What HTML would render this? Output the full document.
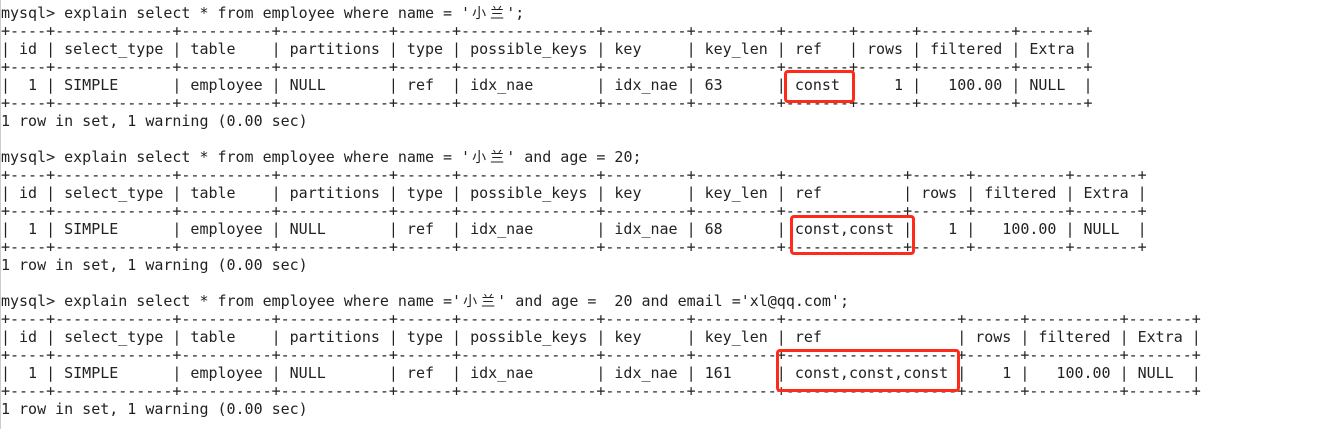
<!DOCTYPE html>
<html><head><meta charset="utf-8"><style>
html,body{margin:0;padding:0;background:#fff;width:1339px;height:429px;overflow:hidden;position:relative}
pre{margin:0;position:absolute;left:1px;top:4px;font-family:"DejaVu Sans Mono","Liberation Mono",monospace;font-size:15px;line-height:18px;color:#222;letter-spacing:-0.01px}
.c{display:inline-block;width:18.05px;text-align:center;font-family:"Noto Sans CJK SC",sans-serif;font-size:14px;line-height:18px;vertical-align:top}
.b{position:absolute;border:3px solid #ff2a1a;border-radius:4px;box-sizing:border-box}
.lb{position:absolute;left:0;top:0;width:1px;height:429px;background:#ccc}
</style></head><body>
<div class="lb"></div>
<pre>mysql&gt; explain select * from employee where name = '<span class="c">小</span><span class="c">兰</span>';
+----+-------------+----------+------------+------+---------------+---------+---------+-------+------+----------+-------+
| id | select_type | table    | partitions | type | possible_keys | key     | key_len | ref   | rows | filtered | Extra |
+----+-------------+----------+------------+------+---------------+---------+---------+-------+------+----------+-------+
|  1 | SIMPLE      | employee | NULL       | ref  | idx_nae       | idx_nae | 63      | const |    1 |   100.00 | NULL  |
+----+-------------+----------+------------+------+---------------+---------+---------+-------+------+----------+-------+
1 row in set, 1 warning (0.00 sec)

mysql&gt; explain select * from employee where name = '<span class="c">小</span><span class="c">兰</span>' and age = 20;
+----+-------------+----------+------------+------+---------------+---------+---------+-------------+------+----------+-------+
| id | select_type | table    | partitions | type | possible_keys | key     | key_len | ref         | rows | filtered | Extra |
+----+-------------+----------+------------+------+---------------+---------+---------+-------------+------+----------+-------+
|  1 | SIMPLE      | employee | NULL       | ref  | idx_nae       | idx_nae | 68      | const,const |    1 |   100.00 | NULL  |
+----+-------------+----------+------------+------+---------------+---------+---------+-------------+------+----------+-------+
1 row in set, 1 warning (0.00 sec)

mysql&gt; explain select * from employee where name ='<span class="c">小</span><span class="c">兰</span>' and age =  20 and email ='xl@qq.com';
+----+-------------+----------+------------+------+---------------+---------+---------+-------------------+------+----------+-------+
| id | select_type | table    | partitions | type | possible_keys | key     | key_len | ref               | rows | filtered | Extra |
+----+-------------+----------+------------+------+---------------+---------+---------+-------------------+------+----------+-------+
|  1 | SIMPLE      | employee | NULL       | ref  | idx_nae       | idx_nae | 161     | const,const,const |    1 |   100.00 | NULL  |
+----+-------------+----------+------------+------+---------------+---------+---------+-------------------+------+----------+-------+
1 row in set, 1 warning (0.00 sec)</pre>
<div class="b" style="left:784px;top:70px;width:71px;height:33px"></div>
<div class="b" style="left:790px;top:215px;width:125px;height:40px"></div>
<div class="b" style="left:776px;top:349px;width:184px;height:43px"></div>
</body></html>
